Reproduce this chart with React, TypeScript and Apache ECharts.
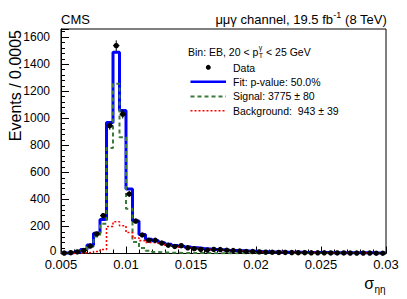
import React, { useEffect, useRef } from 'react';
import * as echarts from 'echarts';

// ---- binning ----
const X_MIN = 0.005;
const X_MAX = 0.03;
const BIN_WIDTH = 0.0005;
const Y_MAX = 1660;

// ---- per-bin values (50 bins of 0.0005 from 0.005 to 0.03) ----
const dataCounts = [
  3, 6, 12, 22, 55, 145, 280, 945, 1537, 1030,
  440, 240, 137, 98, 98, 77, 61, 52, 58, 42,
  36, 30, 25, 30, 29, 24, 22, 18, 15, 15,
  12, 10, 9, 8, 8, 7, 6, 6, 5, 5,
  5, 4, 4, 4, 3, 3, 3, 3, 2, 2,
];
const fitValues = [
  3, 6, 12, 30, 62, 150, 252, 969, 1489, 1058,
  477, 240, 140, 105, 95, 80, 68, 60, 54, 48,
  42, 37, 33, 30, 27, 24, 22, 20, 18, 16,
  14, 13, 12, 11, 10, 9, 9, 8, 8, 7,
  7, 6, 6, 6, 5, 5, 5, 5, 4, 4,
];
const signalValues = [
  2, 4, 8, 20, 50, 125, 220, 780, 1255, 860,
  330, 85, 40, 20, 12, 8, 6, 5, 4, 4,
  3, 3, 3, 2, 2, 2, 2, 2, 2, 2,
  1, 1, 1, 1, 1, 1, 1, 1, 1, 1,
  1, 1, 1, 1, 1, 1, 1, 1, 1, 1,
];
const backgroundValues = [
  0, 1, 2, 5, 8, 15, 30, 200, 235, 205,
  155, 115, 95, 82, 78, 70, 60, 54, 48, 43,
  38, 34, 30, 27, 25, 22, 20, 18, 16, 15,
  13, 12, 11, 10, 9, 8, 8, 7, 7, 6,
  6, 5, 5, 5, 4, 4, 4, 4, 3, 3,
];

const xTickLabels = ['0.005', '0.01', '0.015', '0.02', '0.025', '0.03'];
const X_TICK_STEP = 0.005;
const Y_TICK_STEP = 200;
const Y_MINOR_STEP = 40;

const FONT = "'Liberation Sans', Arial, Helvetica, sans-serif";
const NARROW = "'Liberation Sans Narrow', 'Liberation Sans', Arial, sans-serif";

function measure(text: string, size: number, family = FONT) {
  const c = document.createElement('canvas').getContext('2d')!;
  c.font = `${size}px ${family}`;
  return c.measureText(text).width;
}

function stepData(vals: number[]) {
  const pts: number[][] = [];
  for (let i = 0; i <= vals.length; i++) {
    const edge = X_MIN + BIN_WIDTH * i;
    pts.push([edge, vals[Math.min(i, vals.length - 1)]]);
  }
  return pts;
}

export default function App() {
  const ref = useRef<HTMLDivElement>(null);
  useEffect(() => {
    if (!ref.current) return;
    const chart = echarts.init(ref.current, null, { renderer: 'svg' });

    const dataPts = dataCounts.map((v, i) => [X_MIN + BIN_WIDTH * (i + 0.5), v, Math.sqrt(v)]);

    // header text layout
    const hdrSize = 13;
    const wB = measure(' (8 TeV)', hdrSize);
    const wS = measure('-1', 9);
    const xEnd = 387;
    const xB = xEnd - wB;
    const xS = xB - wS - 0.5;

    const legSize = 10.5;
    const binText = 'Bin: EB, 20 < p';
    const wBin = measure(binText, legSize);
    const binX = 188;
    const supX = binX + wBin + 0.5;
    const wSup = Math.max(measure('γ', 7), measure('T', 7));

    const black = '#000';
    const blue = '#0000ff';
    const green = '#3a7a3a';
    const red = '#ff0000';

    const option: any = {
      animation: false,
      grid: {
        left: 61, right: 21, top: 29, bottom: 45.5,
        show: true, borderColor: black, borderWidth: 1, backgroundColor: 'transparent',
      },
      xAxis: [{
        type: 'value', min: X_MIN, max: X_MAX, interval: X_TICK_STEP,
        axisLine: { onZero: false, lineStyle: { color: black, width: 1 } },
        axisTick: { inside: true, length: 7, lineStyle: { color: black } },
        minorTick: { show: true, splitNumber: 5, length: 4, lineStyle: { color: black } },
        splitLine: { show: false },
        axisLabel: {
          color: black, fontSize: 13, fontFamily: FONT, margin: 4,
          formatter: (v: number) => {
            const k = Math.round((v - X_MIN) / X_TICK_STEP);
            return Math.abs(v - (X_MIN + k * X_TICK_STEP)) < 1e-9 ? (xTickLabels[k] ?? '') : '';
          },
        },
      }],
      yAxis: [
        {
          type: 'value', min: 0, max: Y_MAX, interval: Y_TICK_STEP,
          axisLine: { show: true, onZero: false, lineStyle: { color: black, width: 1 } },
          axisTick: { inside: true, length: 8, lineStyle: { color: black } },
          splitLine: { show: false },
          axisLabel: {
            color: black, fontSize: 12, fontFamily: NARROW, margin: 11,
            formatter: (v: number) => (v > 0 && v % Y_TICK_STEP === 0 ? String(v) : ''),
          },
        },
        {
          type: 'value', min: 0, max: Y_MAX, interval: Y_MINOR_STEP, position: 'left', offset: 0,
          axisLine: { show: false },
          axisTick: { inside: true, length: 4, lineStyle: { color: black } },
          axisLabel: { show: false },
          splitLine: { show: false },
        },
      ],
      series: [
        {
          type: 'line', step: 'end', data: stepData(fitValues), symbol: 'none',
          lineStyle: { color: blue, width: 3 }, z: 2,
        },
        {
          type: 'line', step: 'end', data: stepData(signalValues), symbol: 'none',
          lineStyle: { color: green, width: 2, type: [4, 3] }, z: 3,
        },
        {
          type: 'line', step: 'end', data: stepData(backgroundValues), symbol: 'none',
          lineStyle: { color: red, width: 1.6, type: [2, 2] }, z: 4,
        },
        {
          type: 'custom', z: 5,
          data: dataPts,
          renderItem: (params: any, api: any) => {
            const x = api.value(0), y = api.value(1), e = api.value(2);
            const c = api.coord([x, y]);
            const top = api.coord([x, y + e]);
            const bot = api.coord([x, Math.max(y - e, 0)]);
            const l = api.coord([x - BIN_WIDTH / 2, y]);
            const r = api.coord([x + BIN_WIDTH / 2, y]);
            return {
              type: 'group',
              children: [
                { type: 'line', shape: { x1: c[0], y1: top[1], x2: c[0], y2: bot[1] }, style: { stroke: black, lineWidth: 1 } },
                { type: 'line', shape: { x1: l[0], y1: c[1], x2: r[0], y2: c[1] }, style: { stroke: black, lineWidth: 1 } },
                { type: 'circle', shape: { cx: c[0], cy: c[1], r: 2.7 }, style: { fill: black } },
              ],
            };
          },
        },
      ],
      graphic: [
        { type: 'text', x: 61, y: 19.5, style: { text: 'CMS', font: `${hdrSize}px ${FONT}`, fill: black, verticalAlign: 'middle', align: 'left' } },
        { type: 'text', x: xS, y: 19.5, style: { text: 'μμγ channel, 19.5 fb', font: `${hdrSize}px ${FONT}`, fill: black, verticalAlign: 'middle', align: 'right' } },
        { type: 'text', x: xS + 0.3, y: 15, style: { text: '-1', font: `9px ${FONT}`, fill: black, verticalAlign: 'middle', align: 'left' } },
        { type: 'text', x: xB, y: 19.5, style: { text: ' (8 TeV)', font: `${hdrSize}px ${FONT}`, fill: black, verticalAlign: 'middle', align: 'left' } },
        // y-axis title
        { type: 'text', x: 15, y: 30, rotation: Math.PI / 2, style: { text: 'Events / 0.0005', font: `16px ${FONT}`, fill: black, verticalAlign: 'middle', align: 'right' } },
        // y "0" label
        { type: 'text', x: 56.5, y: 250.5, style: { text: '0', font: `12px ${NARROW}`, fill: black, verticalAlign: 'middle', align: 'right' } },
        // x-axis title
        { type: 'text', x: 374, y: 283, style: { text: 'σ', font: `16px ${FONT}`, fill: black, verticalAlign: 'middle', align: 'right' } },
        { type: 'text', x: 374.5, y: 289.5, style: { text: 'ηη', font: `10px ${FONT}`, fill: black, verticalAlign: 'middle', align: 'left' } },
        // legend
        { type: 'text', x: binX, y: 51.5, style: { text: binText, font: `${legSize}px ${FONT}`, fill: black, verticalAlign: 'middle', align: 'left' } },
        { type: 'text', x: supX, y: 47.5, style: { text: 'γ', font: `7px ${FONT}`, fill: black, verticalAlign: 'middle', align: 'left' } },
        { type: 'text', x: supX, y: 55.5, style: { text: 'T', font: `7px ${FONT}`, fill: black, verticalAlign: 'middle', align: 'left' } },
        { type: 'text', x: supX + wSup, y: 51.5, style: { text: ' < 25 GeV', font: `${legSize}px ${FONT}`, fill: black, verticalAlign: 'middle', align: 'left' } },
        { type: 'circle', shape: { cx: 208.3, cy: 67.3, r: 2.5 }, style: { fill: black } },
        { type: 'text', x: 233, y: 67.5, style: { text: 'Data', font: `${legSize}px ${FONT}`, fill: black, verticalAlign: 'middle', align: 'left' } },
        { type: 'line', shape: { x1: 190.5, y1: 81.7, x2: 226, y2: 81.7 }, style: { stroke: blue, lineWidth: 2.5 } },
        { type: 'text', x: 233, y: 81.8, style: { text: 'Fit: p-value: 50.0%', font: `${legSize}px ${FONT}`, fill: black, verticalAlign: 'middle', align: 'left' } },
        { type: 'line', shape: { x1: 190.5, y1: 96.5, x2: 226, y2: 96.5 }, style: { stroke: green, lineWidth: 2, lineDash: [4, 3] } },
        { type: 'text', x: 233, y: 96, style: { text: 'Signal: 3775 ± 80', font: `${legSize}px ${FONT}`, fill: black, verticalAlign: 'middle', align: 'left' } },
        { type: 'line', shape: { x1: 190.5, y1: 110.8, x2: 226, y2: 110.8 }, style: { stroke: red, lineWidth: 1.6, lineDash: [2, 2] } },
        { type: 'text', x: 233, y: 110.5, style: { text: 'Background:  943 ± 39', font: `${legSize}px ${FONT}`, fill: black, verticalAlign: 'middle', align: 'left' } },
      ],
    };
    chart.setOption(option);
    return () => chart.dispose();
  }, []);
  return <div ref={ref} style={{ width: 407, height: 299, position: 'absolute', left: 0, top: 0 }} />;
}
